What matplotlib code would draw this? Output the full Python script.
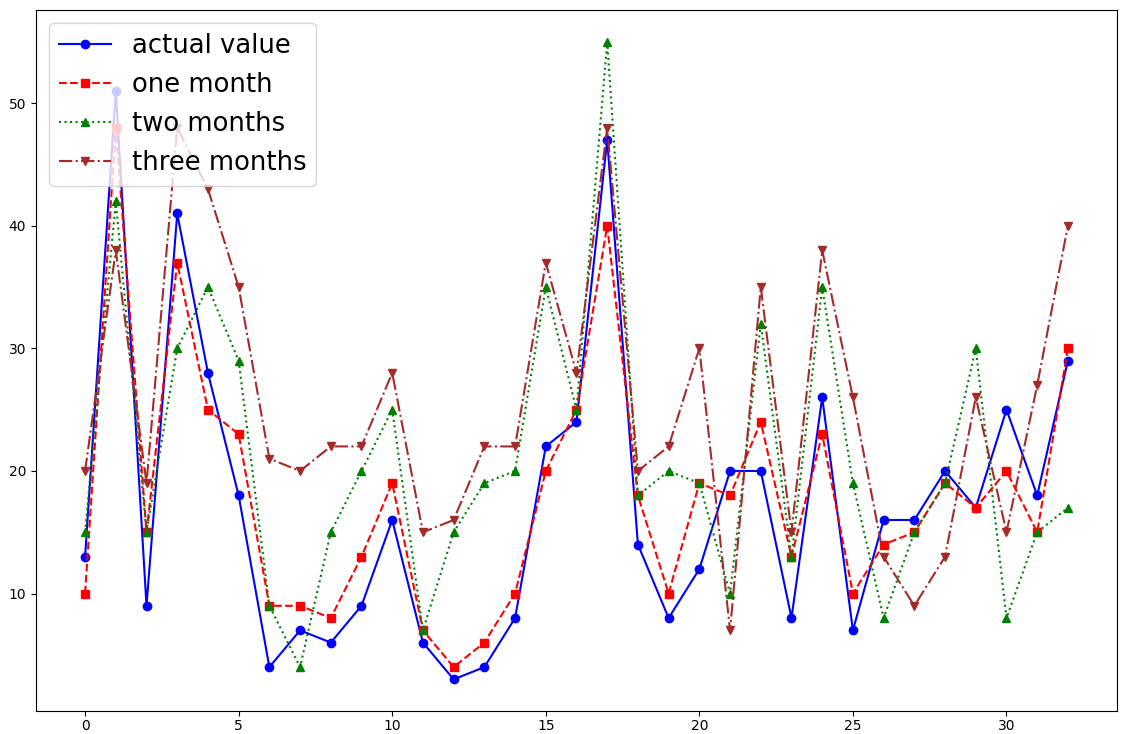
import matplotlib
matplotlib.use('Agg')
import matplotlib.pyplot as plt

# month index on the x axis
months = list(range(33))

actual_value = [13, 51, 9, 41, 28, 18, 4, 7, 6, 9, 16, 6, 3, 4, 8, 22, 24, 47,
                14, 8, 12, 20, 20, 8, 26, 7, 16, 16, 20, 17, 25, 18, 29]
one_month = [10, 48, 15, 37, 25, 23, 9, 9, 8, 13, 19, 7, 4, 6, 10, 20, 25, 40,
             18, 10, 19, 18, 24, 13, 23, 10, 14, 15, 19, 17, 20, 15, 30]
two_months = [15, 42, 15, 30, 35, 29, 9, 4, 15, 20, 25, 7, 15, 19, 20, 35, 25, 55,
              18, 20, 19, 10, 32, 13, 35, 19, 8, 15, 19, 30, 8, 15, 17]
three_months = [20, 38, 19, 48, 43, 35, 21, 20, 22, 22, 28, 15, 16, 22, 22, 37, 28, 48,
                20, 22, 30, 7, 35, 15, 38, 26, 13, 9, 13, 26, 15, 27, 40]

fig = plt.figure(figsize=(11.23, 7.34), dpi=100)
ax = fig.add_subplot(111)
fig.subplots_adjust(left=0.032, right=0.9947, top=0.9864, bottom=0.031)

ax.plot(months, actual_value, 'o-', color='blue', label='actual value')
ax.plot(months, one_month, 's--', color='red', label='one month')
ax.plot(months, two_months, '^:', color='green', label='two months')
ax.plot(months, three_months, 'v-.', color='brown', label='three months')

ax.tick_params(axis='x', pad=2)
ax.legend(loc='upper left', fontsize=18.6)

plt.savefig('out.png', dpi=100)
plt.close()
